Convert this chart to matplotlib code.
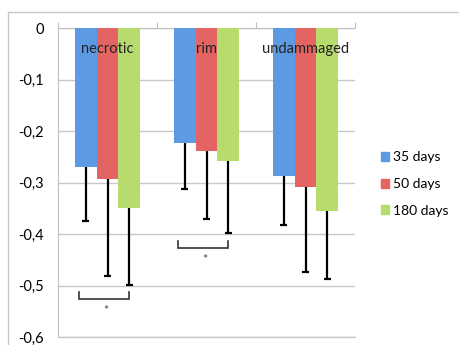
import matplotlib
matplotlib.use("Agg")
import matplotlib.pyplot as plt
from matplotlib.patches import Rectangle, Patch
import numpy as np

plt.rcParams['font.family'] = ['Lato', 'DejaVu Sans']

categories = ["necrotic", "rim", "undammaged"]
series = ["35 days", "50 days", "180 days"]
colors = ["#5c9be3", "#e46464", "#b7db6c"]
values = [
    [-0.270, -0.223, -0.287],   # 35 days
    [-0.293, -0.239, -0.309],   # 50 days
    [-0.350, -0.259, -0.355],   # 180 days
]
errors = [
    [0.105, 0.090, 0.095],
    [0.189, 0.132, 0.165],
    [0.149, 0.140, 0.132],
]
# significance brackets: (category index, y level)
brackets = [(0, -0.526), (1, -0.427)]
yticks = [0, -0.1, -0.2, -0.3, -0.4, -0.5, -0.6]

fig = plt.figure(figsize=(4.59, 3.45), dpi=100)
ax = fig.add_axes([58/459, 1-337/345, 297/459, 309/345])

x = np.arange(len(categories))
w = 0.222
for i, s in enumerate(series):
    xs = x + (i - 1) * w
    lo = np.array(values[i]) - np.array(errors[i])
    ax.bar(xs, values[i], width=w, color=colors[i], zorder=3, label=s)
    # only the minus side of the error bars
    ax.vlines(xs, values[i], lo, color='black', lw=1.6, zorder=2)
    ax.hlines(lo, xs - 0.04, xs + 0.04, color='black', lw=1.6, zorder=2)

for c, lbl in enumerate(categories):
    ax.text(c, -0.04, lbl, ha='center', va='center', fontsize=10.5, color='#222222', zorder=4)

for c, yb in brackets:
    x0, x1 = c - 0.285, c + w
    ax.plot([x0, x0, x1, x1], [yb + 0.013, yb, yb, yb + 0.013], color='#333333', lw=1.2,
            zorder=2, solid_joinstyle='miter')
    ax.text(c - 0.015, yb - 0.024, "*", ha='center', va='center', fontsize=9, color='#444444')

ax.set_xlim(-0.5, 2.5)
ax.set_ylim(-0.6, 0)
ax.set_yticks(yticks)
ax.set_yticklabels(["0" if t == 0 else f"{t:.1f}".replace('.', ',') for t in yticks], fontsize=10.5)
ax.tick_params(axis='y', length=0, pad=10)
ax.yaxis.grid(True, color='#c8c8c8', lw=1, zorder=0)
ax.axhline(-0.6, color='#c8c8c8', lw=1, clip_on=False, zorder=0)
ax.set_axisbelow(True)

ax.xaxis.tick_top()
ax.set_xticks([-0.5, 0.5, 1.5, 2.5])
ax.set_xticklabels([])
ax.tick_params(axis='x', length=4, color='#c0c0c0', direction='out')
for side in ['right', 'bottom']:
    ax.spines[side].set_visible(False)
for side in ['left', 'top']:
    ax.spines[side].set_color('#c0c0c0')

handles = [Patch(color=c) for c in colors]
fig.legend(handles, series, loc='center left', bbox_to_anchor=(368/459, 1-184/345),
           frameon=False, fontsize=10, handlelength=0.6, handleheight=0.6,
           handletextpad=0.3, labelspacing=1.05)

fig.add_artist(Rectangle((8/459, -0.1), 1.2, 1 - 12/345 + 0.1, transform=fig.transFigure,
                         fill=False, edgecolor='#c8c8c8', lw=1))

fig.savefig("out.png", dpi=100)
